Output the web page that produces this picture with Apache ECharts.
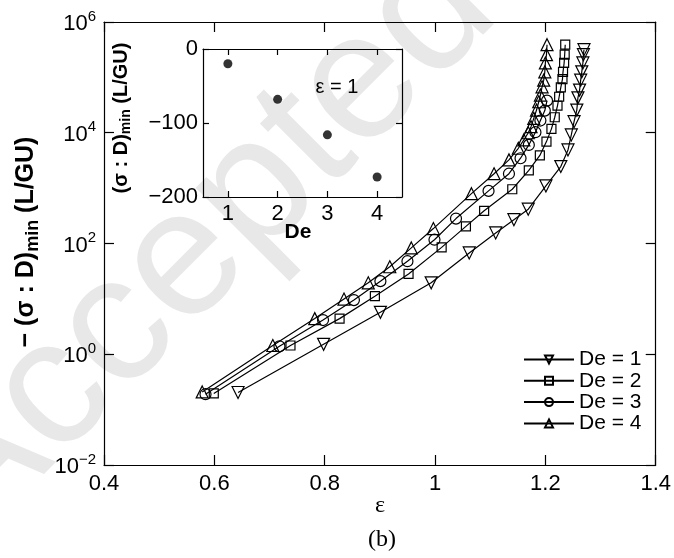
<!DOCTYPE html>
<html>
<head>
<meta charset="utf-8">
<script src="https://cdn.jsdelivr.net/npm/echarts@6/dist/echarts.min.js"></script>
<style>
  html, body { margin: 0; padding: 0; background: #fff; }
  #chart { width: 674px; height: 558px; }
</style>
</head>
<body>
<div id="chart"></div>
<script>
// Strain ε and minimum stress power −(σ:D)_min for each Deborah number
const eps1 = [0.643, 0.798, 0.901, 0.993, 1.062, 1.110, 1.143, 1.169, 1.201, 1.228, 1.241, 1.247, 1.252, 1.257, 1.259, 1.262, 1.264, 1.266, 1.268, 1.269, 1.270];
const val1 = [0.204, 1.51, 5.71, 19.5, 67.6, 155, 269, 417, 1096, 2455, 4898, 9120, 15850, 25700, 42660, 58900, 89100, 125900, 182000, 257000, 316000];

const eps2 = [0.599, 0.738, 0.827, 0.891, 0.952, 1.012, 1.056, 1.089, 1.140, 1.170, 1.190, 1.202, 1.211, 1.217, 1.222, 1.225, 1.228, 1.231, 1.232, 1.234, 1.235, 1.236];
const val2 = [0.196, 1.44, 4.40, 11.2, 28.2, 85.1, 204, 389, 955, 2089, 3890, 6918, 11750, 19050, 30900, 44670, 66070, 93300, 125900, 182000, 257000, 389000];

const eps3 = [0.584, 0.718, 0.797, 0.853, 0.901, 0.950, 0.999, 1.038, 1.097, 1.134, 1.155, 1.170, 1.182, 1.191, 1.199, 1.203];
const val3 = [0.190, 1.39, 4.15, 9.51, 20.9, 47.9, 117, 282, 891, 1820, 3467, 6026, 10230, 16600, 25120, 38020];

const eps4 = [0.578, 0.706, 0.782, 0.835, 0.879, 0.918, 0.957, 0.997, 1.066, 1.107, 1.134, 1.151, 1.161, 1.169, 1.174, 1.179, 1.184, 1.188, 1.191, 1.194, 1.197, 1.199, 1.200, 1.202, 1.203];
const val4 = [0.209, 1.44, 4.40, 9.91, 19.5, 38.0, 83.2, 186, 794, 1820, 3236, 5248, 7413, 10000, 12880, 18200, 25700, 36300, 47860, 67600, 89100, 125900, 182000, 257000, 389000];

const seriesNames = ['De = 1', 'De = 2', 'De = 3', 'De = 4'];

// Inset: (σ:D)_min at ε = 1 against De
const insetDe = [1, 2, 3, 4];
const insetMin = [-20, -68, -116, -173];
const insetTicks = [1, 2, 3, 4];

const FONT = '"Liberation Sans", Arial, Helvetica, sans-serif';
const SERIF = '"Liberation Serif", "DejaVu Serif", serif';
const BLACK = '#000';

function lineSeries(name, eps, vals, symbol, size, rotate) {
  return {
    name: name,
    type: 'line',
    xAxisIndex: 0,
    yAxisIndex: 0,
    data: eps.map((e, i) => [e, vals[i]]),
    symbol: symbol,
    symbolSize: size,
    symbolRotate: rotate,
    showAllSymbol: true,
    lineStyle: { color: BLACK, width: 1.2 },
    itemStyle: { color: 'rgba(0,0,0,0)', borderColor: BLACK, borderWidth: 1.2 },
    emphasis: { disabled: true },
    z: 3
  };
}

function supLabel(v) {
  const e = Math.round(Math.log10(v));
  return '{b|10}{s|' + (e < 0 ? '\u2212' + (-e) : e) + '}';
}

const axisBase = {
  axisLine: { show: true, onZero: false, lineStyle: { color: BLACK, width: 1.2 } },
  axisTick: { show: true, inside: true, length: 10, lineStyle: { color: BLACK, width: 1.2 } },
  splitLine: { show: false },
  minorTick: { show: false }
};

const option = {
  backgroundColor: '#fff',
  animation: false,
  textStyle: { fontFamily: FONT },
  grid: [
    { left: 104, right: 17, top: 22, bottom: 93 },
    { left: 203, top: 49, width: 199, height: 148 }
  ],
  xAxis: [
    Object.assign({}, axisBase, {
      type: 'value', gridIndex: 0, position: 'bottom', min: 0.4, max: 1.4, interval: 0.2,
      axisLabel: { color: BLACK, fontSize: 22, margin: 8, fontFamily: FONT }
    }),
    Object.assign({}, axisBase, {
      type: 'value', gridIndex: 0, position: 'top', min: 0.4, max: 1.4, interval: 0.2,
      axisLabel: { show: false }
    }),
    Object.assign({}, axisBase, {
      type: 'value', gridIndex: 1, position: 'bottom', min: 0.5, max: 4.5,
      axisTick: { show: true, inside: true, length: 6, customValues: insetTicks, lineStyle: { color: BLACK, width: 1.2 } },
      axisLabel: { color: BLACK, fontSize: 22, margin: 6, customValues: insetTicks, fontFamily: FONT }
    }),
    Object.assign({}, axisBase, {
      type: 'value', gridIndex: 1, position: 'top', min: 0.5, max: 4.5,
      axisTick: { show: true, inside: true, length: 6, customValues: insetTicks, lineStyle: { color: BLACK, width: 1.2 } },
      axisLabel: { show: false, customValues: insetTicks }
    })
  ],
  yAxis: [
    Object.assign({}, axisBase, {
      type: 'log', logBase: 10, gridIndex: 0, position: 'left', min: 0.01, max: 1e6, interval: 2,
      axisLabel: {
        color: BLACK, fontSize: 22, margin: 8, fontFamily: FONT,
        formatter: supLabel,
        rich: {
          b: { fontSize: 22, fontFamily: FONT, color: BLACK, verticalAlign: 'bottom' },
          s: { fontSize: 15, fontFamily: FONT, color: BLACK, verticalAlign: 'top', padding: [0, 0, 11, 0] }
        }
      }
    }),
    Object.assign({}, axisBase, {
      type: 'log', logBase: 10, gridIndex: 0, position: 'right', min: 0.01, max: 1e6, interval: 2,
      axisLabel: { show: false }
    }),
    Object.assign({}, axisBase, {
      type: 'value', gridIndex: 1, position: 'left', min: -200, max: 0, interval: 100,
      axisTick: { show: true, inside: true, length: 6, lineStyle: { color: BLACK, width: 1.2 } },
      axisLabel: {
        color: BLACK, fontSize: 22, margin: 5, fontFamily: FONT,
        formatter: v => (v < 0 ? '\u2212' + (-v) : String(v))
      }
    }),
    Object.assign({}, axisBase, {
      type: 'value', gridIndex: 1, position: 'right', min: -200, max: 0, interval: 100,
      axisTick: { show: true, inside: true, length: 6, lineStyle: { color: BLACK, width: 1.2 } },
      axisLabel: { show: false }
    })
  ],
  legend: {
    orient: 'vertical',
    left: 518,
    top: 344,
    itemWidth: 50,
    itemHeight: 10,
    itemGap: 0.3,
    selectedMode: false,
    textStyle: { color: BLACK, fontSize: 21, lineHeight: 19, fontFamily: FONT },
    data: seriesNames
  },
  series: [
    lineSeries(seriesNames[0], eps1, val1, 'triangle', 12, 180),
    lineSeries(seriesNames[1], eps2, val2, 'rect', 9, 0),
    lineSeries(seriesNames[2], eps3, val3, 'circle', 11, 0),
    lineSeries(seriesNames[3], eps4, val4, 'triangle', 12, 0),
    {
      name: 'inset',
      type: 'scatter',
      xAxisIndex: 2,
      yAxisIndex: 2,
      data: insetDe.map((d, i) => [d, insetMin[i]]),
      symbol: 'circle',
      symbolSize: 9,
      itemStyle: { color: BLACK },
      emphasis: { disabled: true },
      z: 4
    }
  ],
  graphic: [
    {
      type: 'text', silent: true, z: -10,
      x: 0, y: 575, rotation: Math.PI / 4,
      style: {
        text: 'Accepted', fill: '#e8e8e8', fontSize: 180, fontFamily: FONT,
        align: 'left', verticalAlign: 'bottom', textAlign: 'left', textVerticalAlign: 'bottom'
      }
    },
    {
      type: 'text', silent: true,
      x: 28, y: 242, rotation: Math.PI / 2,
      style: {
        text: '{b|\u2212 (\u03c3 : D)}{s|min}{b| (L/GU)}',
        align: 'center', verticalAlign: 'middle', textAlign: 'center', textVerticalAlign: 'middle',
        rich: {
          b: { fontSize: 25, fontWeight: 'bold', fontFamily: FONT, fill: BLACK, verticalAlign: 'top' },
          s: { fontSize: 18, fontWeight: 'bold', fontFamily: FONT, fill: BLACK, verticalAlign: 'bottom', padding: [10, 0, 0, 0] }
        }
      }
    },
    {
      type: 'text', silent: true,
      x: 122, y: 118, rotation: Math.PI / 2,
      style: {
        text: '{b|(\u03c3 : D)}{s|min}{b| (L/GU)}',
        align: 'center', verticalAlign: 'middle', textAlign: 'center', textVerticalAlign: 'middle',
        rich: {
          b: { fontSize: 20, fontWeight: 'bold', fontFamily: FONT, fill: BLACK, verticalAlign: 'top' },
          s: { fontSize: 14, fontWeight: 'bold', fontFamily: FONT, fill: BLACK, verticalAlign: 'bottom', padding: [8, 0, 0, 0] }
        }
      }
    },
    {
      type: 'text', silent: true, x: 298, y: 232,
      style: { text: 'De', fontSize: 21, fontWeight: 'bold', fontFamily: FONT, fill: BLACK,
        align: 'center', verticalAlign: 'middle', textAlign: 'center', textVerticalAlign: 'middle' }
    },
    {
      type: 'text', silent: true, x: 337, y: 87,
      style: { text: '\u03b5 = 1', fontSize: 20, fontFamily: FONT, fill: BLACK,
        align: 'center', verticalAlign: 'middle', textAlign: 'center', textVerticalAlign: 'middle' }
    },
    {
      type: 'text', silent: true, x: 380, y: 506,
      style: { text: '\u03b5', fontSize: 24, fontFamily: SERIF, fill: BLACK,
        align: 'center', verticalAlign: 'middle', textAlign: 'center', textVerticalAlign: 'middle' }
    },
    {
      type: 'text', silent: true, x: 382, y: 540,
      style: { text: '(b)', fontSize: 24, fontFamily: SERIF, fill: BLACK,
        align: 'center', verticalAlign: 'middle', textAlign: 'center', textVerticalAlign: 'middle' }
    }
  ]
};

const chart = echarts.init(document.getElementById('chart'), null, { renderer: 'canvas' });
chart.setOption(option);
</script>
</body>
</html>
